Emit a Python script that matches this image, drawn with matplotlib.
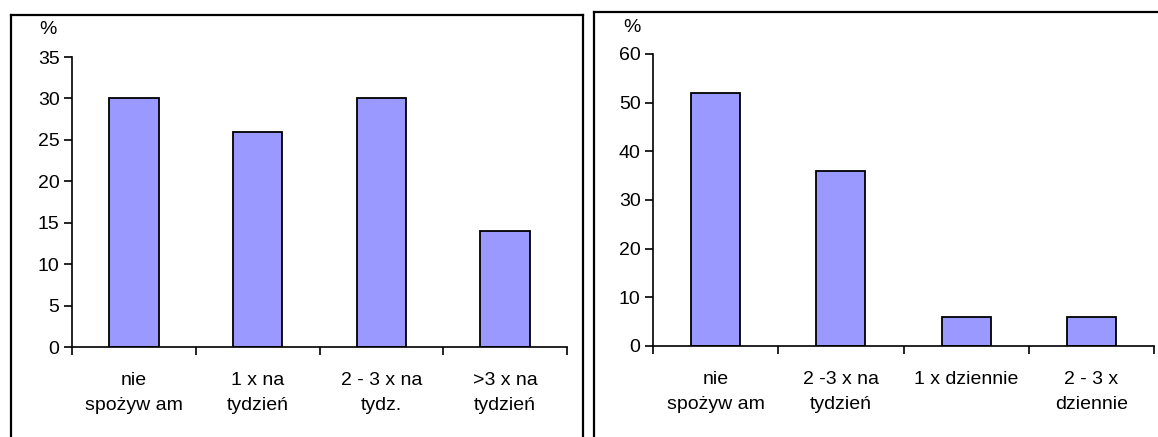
import matplotlib.pyplot as plt
from matplotlib.lines import Line2D

plt.rcParams['font.family'] = ['Liberation Sans', 'DejaVu Sans']
plt.rcParams['font.size'] = 14

# dane
left_labels = ['nie\nspożyw am', '1 x na\ntydzień', '2 - 3 x na\ntydz.', '>3 x na\ntydzień']
left_values = [30, 26, 30, 14]
left_yticks = [0, 5, 10, 15, 20, 25, 30, 35]

right_labels = ['nie\nspożyw am', '2 -3 x na\ntydzień', '1 x dziennie', '2 - 3 x\ndziennie']
right_values = [52, 36, 6, 6]
right_yticks = [0, 10, 20, 30, 40, 50, 60]

bar_color = '#9999FF'

fig = plt.figure(figsize=(11.58, 4.37), dpi=100)
W, H = 1158, 437


def draw(ax, labels, values, yticks, width):
    n = len(values)
    ax.bar(range(n), values, width=width, color=bar_color, edgecolor='black', linewidth=1.3)
    ax.set_xlim(-0.5, n - 0.5)
    ax.set_ylim(0, yticks[-1])
    ax.set_yticks(yticks)
    ax.spines['top'].set_visible(False)
    ax.spines['right'].set_visible(False)
    ax.spines['left'].set_linewidth(1.2)
    ax.spines['bottom'].set_linewidth(1.2)
    # znaczniki na granicach kategorii
    ax.set_xticks([i + 0.5 for i in range(-1, n)])
    ax.set_xticklabels([])
    ax.set_xticks(range(n), minor=True)
    ax.set_xticklabels(labels, minor=True, linespacing=1.65, va='top')
    ax.tick_params(axis='x', which='minor', length=0, pad=18)
    ax.tick_params(axis='x', which='major', length=6, width=1.2, direction='out')
    ax.tick_params(axis='y', length=6, width=1.2, direction='out', pad=3)


ax1 = fig.add_axes([72 / W, 1 - 347 / H, (567 - 72) / W, (347 - 57) / H])
draw(ax1, left_labels, left_values, left_yticks, 0.4)

ax2 = fig.add_axes([653 / W, 1 - 346 / H, (1154 - 653) / W, (346 - 54) / H])
draw(ax2, right_labels, right_values, right_yticks, 0.39)

fig.text(48 / W, 1 - 30 / H, '%', ha='center', va='center')
fig.text(632 / W, 1 - 28 / H, '%', ha='center', va='center')

# ramki
def line(x0, y0, x1, y1):
    fig.add_artist(Line2D([x0 / W, x1 / W], [1 - y0 / H, 1 - y1 / H], color='black', linewidth=1.6))

line(11, 14.5, 583, 14.5)
line(11, 14.5, 11, 437)
line(583, 14.5, 583, 437)
line(594, 11.5, 1158, 11.5)
line(594, 11.5, 594, 437)

fig.savefig('out.png', dpi=100)
